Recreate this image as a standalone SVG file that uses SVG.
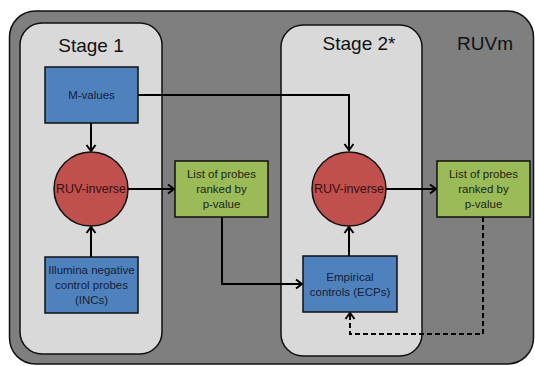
<svg xmlns="http://www.w3.org/2000/svg" width="535" height="366" viewBox="0 0 535 366">
<style>
.t{font-family:"Liberation Sans",Arial,sans-serif;text-anchor:middle}
.hd{font-size:19px;fill:#111}
.lb{font-size:11.5px}
.bx{stroke:#111;stroke-width:1.5}
.blue{fill:#4f81bd}
.green{fill:#9bbb59}
.red{fill:#c0504d}
.tb{fill:#12213a}
.tg{fill:#1d2610}
.tr{fill:#3a0e0d}
.c{fill:none;stroke:#000;stroke-width:2}
.d{stroke-dasharray:5,3}
</style>
<defs>
<marker id="ah" markerUnits="userSpaceOnUse" markerWidth="12" markerHeight="12" refX="8" refY="6" orient="auto" viewBox="0 0 12 12">
<path d="M2,1.5 L8,6 L2,10.5" fill="none" stroke="#000" stroke-width="2"/>
</marker>
</defs>
<g id="outer">
<rect x="9.5" y="11" width="524" height="353" rx="26" fill="#7f7f7f" stroke="#111" stroke-width="1.5"/>
<text class="t hd" x="485" y="50">RUVm</text>
</g>
<g id="stage1">
<rect x="20" y="23" width="142" height="331" rx="22" fill="#d9d9d9" stroke="#111" stroke-width="1.5"/>
<text class="t hd" x="91" y="52">Stage 1</text>
</g>
<g id="stage2">
<rect x="281" y="25" width="141" height="331" rx="22" fill="#d9d9d9" stroke="#111" stroke-width="1.5"/>
<text class="t hd" x="359" y="50">Stage 2*</text>
</g>
<g id="connectors">
<path class="c" d="M138,95 H349 V150" marker-end="url(#ah)"/>
<path class="c" d="M91,123 V151" marker-end="url(#ah)"/>
<path class="c" d="M91,257 V227" marker-end="url(#ah)"/>
<path class="c" d="M128,189 H174" marker-end="url(#ah)"/>
<path class="c" d="M222,217 V284 H302" marker-end="url(#ah)"/>
<path class="c" d="M349,256 V227" marker-end="url(#ah)"/>
<path class="c" d="M386,189 H436" marker-end="url(#ah)"/>
<path class="c d" d="M483,217 V334 H350 V313" marker-end="url(#ah)"/>
</g>
<g id="mvalues">
<rect class="bx blue" x="45" y="67" width="93" height="56"/>
<text class="t lb tb" x="91.5" y="99">M-values</text>
</g>
<g id="ruv1">
<circle class="bx red" cx="91" cy="189" r="37"/>
<text class="t tr" x="91" y="193" font-size="12.5px">RUV-inverse</text>
</g>
<g id="incs">
<rect class="bx blue" x="45" y="257" width="93" height="56"/>
<text class="t lb tb" x="91.5" y="274">Illumina negative</text>
<text class="t lb tb" x="91.5" y="289">control probes</text>
<text class="t lb tb" x="91.5" y="304">(INCs)</text>
</g>
<g id="list1">
<rect class="bx green" x="175" y="161" width="93" height="56"/>
<text class="t lb tg" x="221.5" y="178">List of probes</text>
<text class="t lb tg" x="221.5" y="193">ranked by</text>
<text class="t lb tg" x="221.5" y="208">p-value</text>
</g>
<g id="ruv2">
<circle class="bx red" cx="349" cy="189" r="37"/>
<text class="t tr" x="349" y="193" font-size="12.5px">RUV-inverse</text>
</g>
<g id="ecps">
<rect class="bx blue" x="303" y="256" width="94" height="56"/>
<text class="t lb tb" x="350" y="281">Empirical</text>
<text class="t lb tb" x="350" y="296">controls (ECPs)</text>
</g>
<g id="list2">
<rect class="bx green" x="437" y="161" width="93" height="56"/>
<text class="t lb tg" x="483.5" y="178">List of probes</text>
<text class="t lb tg" x="483.5" y="193">ranked by</text>
<text class="t lb tg" x="483.5" y="208">p-value</text>
</g>
</svg>
